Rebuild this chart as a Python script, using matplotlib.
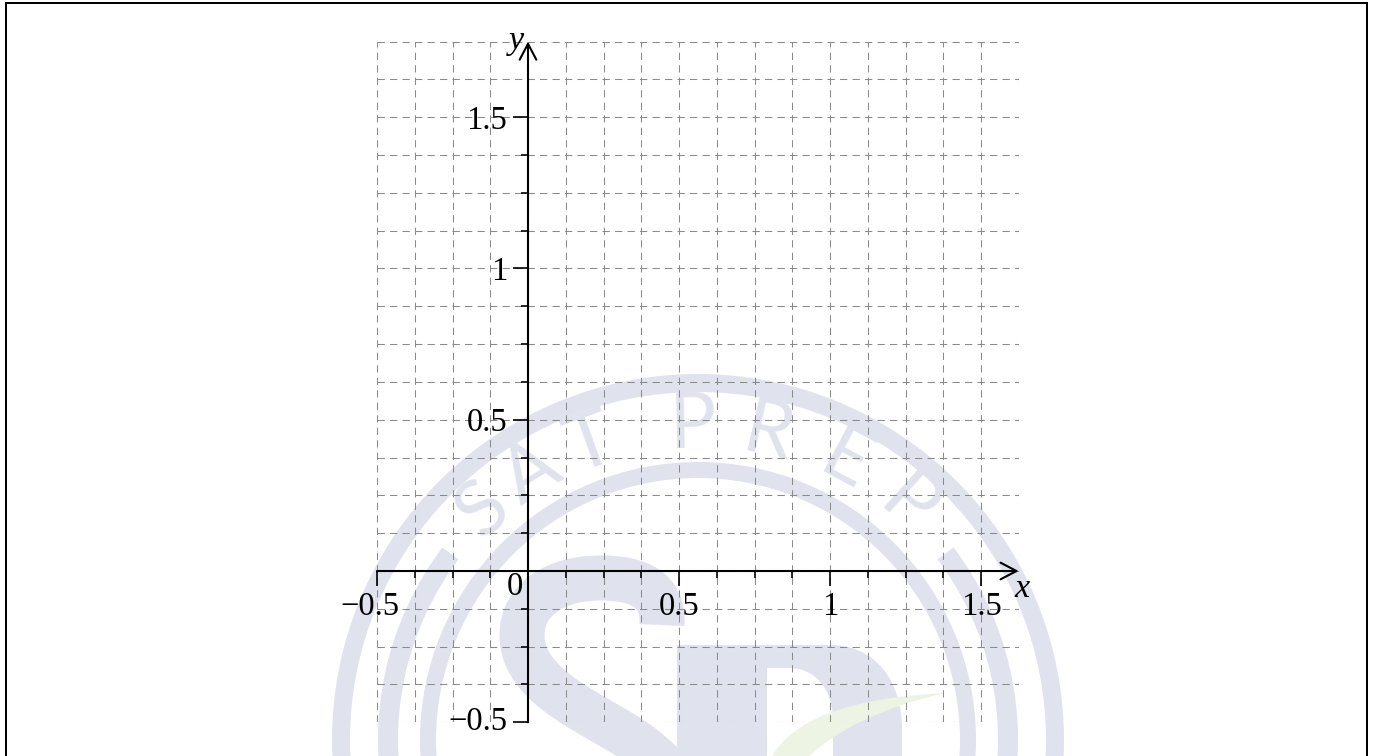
import numpy as np
import matplotlib
matplotlib.use("Agg")
import matplotlib.pyplot as plt
from matplotlib.patches import Annulus, Wedge, PathPatch
from matplotlib.path import Path
from matplotlib.lines import Line2D
import matplotlib.transforms as mtransforms

# ---- axis content -------------------------------------------------------
x_range = (-0.5, 1.625)
y_range = (-0.5, 1.75)
grid_step = 0.125
x_major = [-0.5, 0.5, 1.0, 1.5]
x_major_labels = ["\u22120.5", "0.5", "1", "1.5"]
y_major = [-0.5, 0.5, 1.0, 1.5]
y_major_labels = ["\u22120.5", "0.5", "1", "1.5"]
origin_label = "0"
x_name, y_name = "x", "y"

W, H = 1375, 756
DPI = 100
PX = 72.0 / DPI  # points per pixel

SERIF = ["Liberation Serif", "DejaVu Serif"]
FS = 23.5

fig = plt.figure(figsize=(W / DPI, H / DPI), dpi=DPI)
fig.patch.set_facecolor("white")

# ---- faint background logo (pixel space, y pointing down) --------------
bg = fig.add_axes([0, 0, 1, 1], zorder=0)
bg.set_xlim(0, W)
bg.set_ylim(H, 0)
bg.axis("off")

lav = "#e0e2ee"
leaf = "#eef4e3"
cx, cy = 698, 740

bg.add_patch(Annulus((cx, cy), 366, 18, color=lav, lw=0))
bg.add_patch(Annulus((cx, cy), 278, 16, color=lav, lw=0))
bg.add_patch(Wedge((cx, cy), 320, -37, 12, width=20, color=lav, lw=0))
bg.add_patch(Wedge((cx, cy), 320, 168, 217, width=20, color=lav, lw=0))

ring_text = "SAT PREP"
letter_angles = [133, 122, 110, None, 91, 77, 62, 48]
for ch, ang in zip(ring_text, letter_angles):
    if ang is None:
        continue
    a = np.deg2rad(ang)
    bg.text(cx + 314 * np.cos(a), cy - 314 * np.sin(a), ch,
            family=["Lato", "DejaVu Sans"], fontweight="normal", fontsize=56,
            color=lav, ha="center", va="center", rotation=ang - 90,
            rotation_mode="anchor")

s_path = Path(
    [(662, 625), (664, 590), (640, 578), (600, 578),
     (555, 578), (522, 600), (522, 635),
     (522, 690), (600, 715), (640, 745),
     (670, 768), (690, 790), (690, 830)],
    [Path.MOVETO] + [Path.CURVE4] * 12)
bg.add_patch(PathPatch(s_path, fill=False, ec=lav, lw=45 * PX, capstyle="butt"))

p_outer = Path(
    [(677, 800), (677, 645), (830, 645), (875, 645), (902, 680), (902, 730),
     (902, 800), (677, 800)],
    [Path.MOVETO, Path.LINETO, Path.LINETO, Path.CURVE4, Path.CURVE4,
     Path.CURVE4, Path.LINETO, Path.CLOSEPOLY])
bg.add_patch(PathPatch(p_outer, fc=lav, ec="none"))
p_hole = Path(
    [(767, 800), (767, 668), (790, 668), (815, 668), (833, 690), (833, 720),
     (833, 800), (767, 800)],
    [Path.MOVETO, Path.LINETO, Path.LINETO, Path.CURVE4, Path.CURVE4,
     Path.CURVE4, Path.LINETO, Path.CLOSEPOLY])
bg.add_patch(PathPatch(p_hole, fc="white", ec="none"))
leaf_path = Path(
    [(770, 760), (800, 700), (945, 693), (850, 715), (805, 760), (770, 760)],
    [Path.MOVETO, Path.CURVE3, Path.CURVE3, Path.CURVE3, Path.CURVE3,
     Path.CLOSEPOLY])
bg.add_patch(PathPatch(leaf_path, fc=leaf, ec="none"))

# ---- coordinate plane ---------------------------------------------------
left, right = 377 / W, 1018.75 / W
bottom, top = (H - 722.3) / H, (H - 41.5) / H
ax = fig.add_axes([left, bottom, right - left, top - bottom], zorder=1)
ax.set_xlim(*x_range)
ax.set_ylim(*y_range)
ax.patch.set_alpha(0)

gx = np.arange(x_range[0], x_range[1] + 1e-9, grid_step)
gy = np.arange(y_range[0], y_range[1] + 1e-9, grid_step)
dash = (0, (7, 5))
ax.vlines(gx, y_range[0], y_range[1], colors="#8a8a8a", linewidths=0.75,
          linestyles=dash, zorder=1)
ax.hlines(gy, x_range[0], x_range[1], colors="#8a8a8a", linewidths=0.75,
          linestyles=dash, zorder=1)

for s in ("top", "right"):
    ax.spines[s].set_visible(False)
ax.spines["bottom"].set_position(("data", 0))
ax.spines["left"].set_position(("data", 0))
ax.spines["bottom"].set_visible(False)
ax.spines["left"].set_visible(False)

arrow = dict(arrowstyle="->,head_length=1.15,head_width=0.6", lw=1.5,
             color="black", shrinkA=0, shrinkB=0)
ax.annotate("", xy=(x_range[1], 0), xytext=(x_range[0], 0),
            arrowprops=arrow, zorder=3)
ax.annotate("", xy=(0, y_range[1]), xytext=(0, y_range[0]),
            arrowprops=arrow, zorder=3)

minor_x = [v for v in np.arange(x_range[0], 1.5 + 1e-9, grid_step)
           if all(abs(v - m) > 1e-9 for m in x_major) and abs(v) > 1e-9]
minor_y = [v for v in np.arange(y_range[0], 1.5 + 1e-9, grid_step)
           if all(abs(v - m) > 1e-9 for m in y_major) and abs(v) > 1e-9]

ax.set_xticks(x_major, x_major_labels)
ax.set_xticks(minor_x, minor=True)
ax.set_yticks(y_major, y_major_labels)
ax.set_yticks(minor_y, minor=True)
ax.tick_params(which="major", direction="out", length=11, width=1.2,
               color="black", labelsize=FS, pad=4)
ax.tick_params(which="minor", direction="out", length=5, width=1.2,
               color="black")
ax.tick_params(axis="y", which="major", pad=4)
for lab in ax.get_xticklabels() + ax.get_yticklabels():
    lab.set_family(SERIF)

# nudge the negative labels so the minus sign hangs outside
for lab in ax.get_xticklabels():
    if lab.get_text().startswith("\u2212"):
        lab.set_transform(lab.get_transform() + mtransforms.ScaledTranslation(
            -7.5 / DPI, 0, fig.dpi_scale_trans))
for lab in ax.get_yticklabels():
    if lab.get_text().startswith("\u2212"):
        lab.set_transform(lab.get_transform() + mtransforms.ScaledTranslation(
            0, 4.5 / DPI, fig.dpi_scale_trans))

ax.annotate(origin_label, xy=(0, 0), xytext=(-13 * PX, -16 * PX),
            textcoords="offset points", ha="center", va="center",
            family=SERIF, fontsize=FS)
ax.annotate(x_name, xy=(x_range[1], 0), xytext=(3 * PX, -18 * PX),
            textcoords="offset points", ha="center", va="center",
            family=SERIF, style="italic", fontsize=FS + 1)
ax.annotate(y_name, xy=(0, y_range[1]), xytext=(-12 * PX, 1 * PX),
            textcoords="offset points", ha="center", va="center",
            family=SERIF, style="italic", fontsize=FS + 1)

# ---- page frame -----------------------------------------------------------
fl, fr, ft = 6 / W, 1367 / W, 1 - 3 / H
for xs, ys in (([fl, fl], [0, ft]), ([fl, fr], [ft, ft]), ([fr, fr], [ft, 0])):
    fig.add_artist(Line2D(xs, ys, transform=fig.transFigure, color="black",
                          lw=2 * PX, solid_capstyle="projecting"))

fig.savefig("out.png", dpi=DPI)
